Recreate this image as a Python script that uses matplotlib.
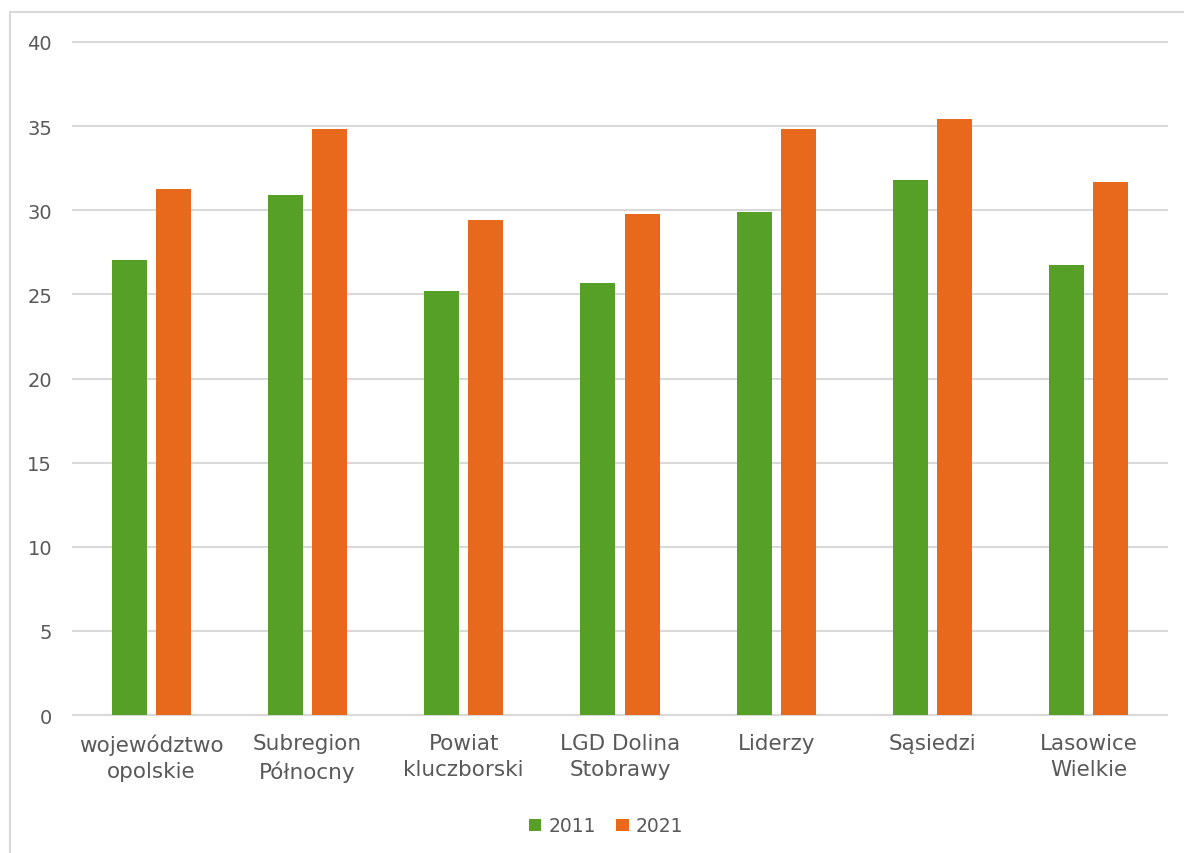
import matplotlib
matplotlib.use("Agg")
import matplotlib.pyplot as plt
from matplotlib.patches import Rectangle
import numpy as np

# dane
categories = ["województwo\nopolskie", "Subregion\nPółnocny", "Powiat\nkluczborski",
              "LGD Dolina\nStobrawy", "Liderzy", "Sąsiedzi", "Lasowice\nWielkie"]
values_2011 = [27.05, 30.9, 25.2, 25.7, 29.9, 31.8, 26.75]
values_2021 = [31.25, 34.8, 29.4, 29.8, 34.85, 35.4, 31.7]

green = "#56A027"
orange = "#E8681C"
text_color = "#595959"
grid_color = "#D9D9D9"

W, H = 1184, 854
fig = plt.figure(figsize=(W / 100, H / 100), dpi=100)
ax = fig.add_axes([73 / W, 1 - 716 / H, (1167 - 73) / W, (716 - 43) / H])

# ramka wykresu
fig.patches.append(Rectangle((10 / W, -0.1), 1.2, 1 - 13 / H + 0.1,
                             transform=fig.transFigure, fill=False,
                             edgecolor=grid_color, linewidth=1.5))

x = np.arange(len(categories))
width = 0.224
offset = 0.141
ax.bar(x - offset, values_2011, width, color=green, label="2011", zorder=3)
ax.bar(x + offset, values_2021, width, color=orange, label="2021", zorder=3)

ax.set_xlim(-0.5, len(categories) - 0.5)
ax.set_ylim(0, 40)
ax.set_yticks(range(0, 41, 5))
ax.set_xticks(x)
ax.set_xticklabels(categories, fontsize=15.5, color=text_color, linespacing=1.4)
ax.tick_params(axis="y", labelsize=14, labelcolor=text_color, length=0, pad=15)
ax.tick_params(axis="x", length=0, pad=13)

ax.grid(axis="y", color=grid_color, linewidth=1.5, zorder=0)
for line in ax.get_ygridlines():
    line.set_clip_on(False)
for side in ["top", "right", "left"]:
    ax.spines[side].set_visible(False)
ax.spines["bottom"].set_color(grid_color)
ax.spines["bottom"].set_linewidth(1.5)

fig.legend(loc="center", bbox_to_anchor=(606 / W, 1 - 827 / H), ncol=2, frameon=False,
           fontsize=13.5, labelcolor=text_color, handlelength=0.65, handleheight=0.65,
           handletextpad=0.4, columnspacing=1.1)

fig.savefig("out.png", dpi=100)
